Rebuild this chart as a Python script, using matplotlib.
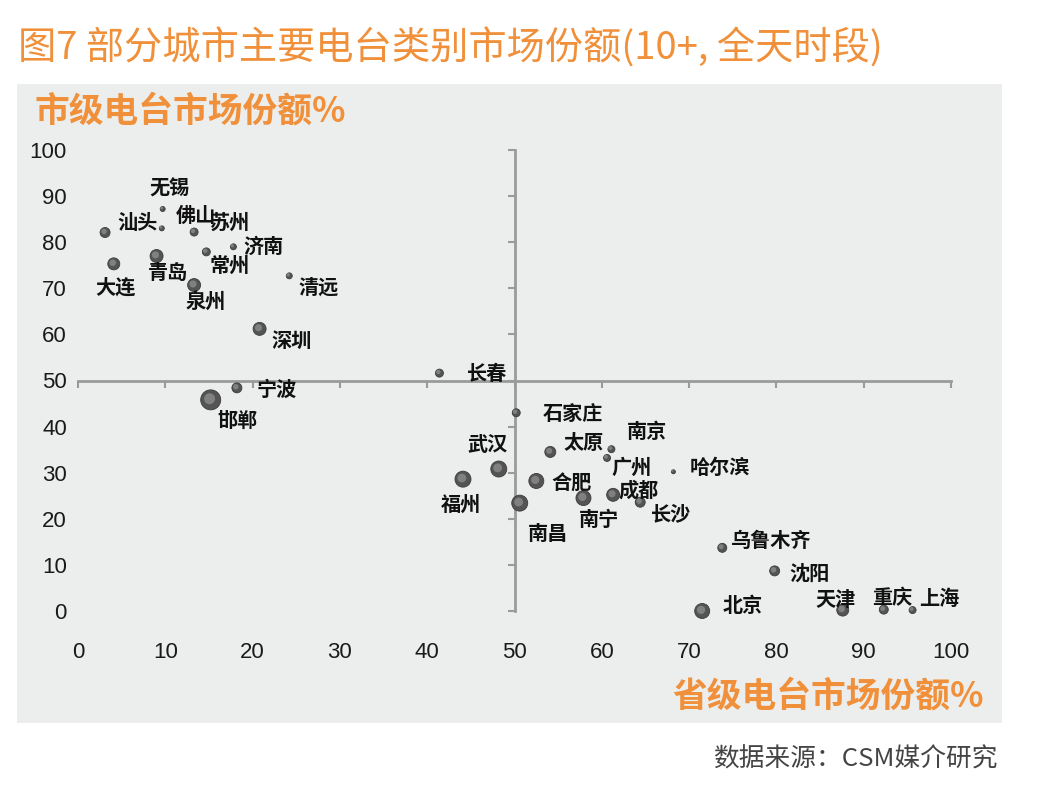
import matplotlib.pyplot as plt
import matplotlib.transforms as mtransforms
from matplotlib.patches import Rectangle

plt.rcParams['font.family'] = ['Noto Sans CJK SC', 'DejaVu Sans']

# data
cities = ['汕头', '无锡', '佛山', '苏州', '济南', '常州', '青岛', '大连', '清远', '泉州',
          '深圳', '宁波', '邯郸', '长春', '石家庄', '武汉', '福州', '南昌', '太原', '合肥',
          '南宁', '南京', '广州', '成都', '长沙', '哈尔滨', '乌鲁木齐', '沈阳', '北京',
          '天津', '重庆', '上海']
province_share = [3.1, 9.7, 9.6, 13.3, 17.8, 14.7, 9.0, 4.1, 24.2, 13.3,
                  20.8, 18.2, 15.2, 41.4, 50.2, 48.2, 44.1, 50.6, 54.1, 52.5,
                  57.9, 61.1, 60.6, 61.3, 64.4, 68.2, 73.8, 79.8, 71.5,
                  87.6, 92.3, 95.6]
city_share = [82.1, 87.2, 83.0, 82.2, 79.0, 77.9, 77.0, 75.3, 72.7, 70.7,
              61.2, 48.4, 45.8, 51.6, 43.0, 30.8, 28.6, 23.4, 34.5, 28.2,
              24.5, 35.1, 33.2, 25.2, 23.6, 30.2, 13.7, 8.7, 0.0,
              0.2, 0.3, 0.2]
bubble = [5, 2.5, 2.5, 4, 3, 4, 6.5, 6, 3, 6.5,
          6.5, 5, 10, 4, 4, 8, 8, 8, 5.5, 7.5,
          7.5, 3.5, 3.5, 6.5, 5, 2, 4.5, 5, 7.5,
          6, 4.5, 3.5]
ticks = [0, 10, 20, 30, 40, 50, 60, 70, 80, 90, 100]

# label offsets from the bubble, in pixels (dx right, dy up)
label_offsets = {
    '汕头': (32, 10), '无锡': (7, 21), '佛山': (34, 13), '苏州': (36, 10),
    '济南': (30, 0), '常州': (23, -13), '青岛': (11, -16), '大连': (2, -23),
    '清远': (29, -11), '泉州': (12, -16), '深圳': (32, -12), '宁波': (40, -1),
    '邯郸': (27, -21), '长春': (48, 0), '石家庄': (57, -1), '武汉': (-11, 25),
    '福州': (-2, -25), '南昌': (28, -30), '太原': (33, 9), '合肥': (35, -2),
    '南宁': (16, -21), '南京': (36, 18), '广州': (25, -9), '成都': (25, 5),
    '长沙': (31, -11), '哈尔滨': (46, 4), '乌鲁木齐': (49, 7), '沈阳': (35, -2),
    '北京': (41, 5), '天津': (-7, 11), '重庆': (8, 12), '上海': (27, 12),
}

orange = '#F0903A'
fig = plt.figure(figsize=(10.4, 8), dpi=100)
fig.patch.set_facecolor('white')

# grey panel behind the chart
fig.patches.append(Rectangle((17 / 1040, 1 - 723 / 800), 985 / 1040, 639 / 800,
                             transform=fig.transFigure, facecolor='#ECEEEE',
                             edgecolor='none', zorder=-10))

ax = fig.add_axes([78 / 1040, 189 / 800, 873 / 1040, 461 / 800])
ax.set_zorder(1)
ax.set_facecolor('none')
ax.set_xlim(0, 100)
ax.set_ylim(0, 100)

# cross lines at 50/50
for side in ['top', 'right']:
    ax.spines[side].set_visible(False)
ax.spines['left'].set_position(('data', 50))
ax.spines['bottom'].set_position(('data', 50))
for side in ['left', 'bottom']:
    ax.spines[side].set_color('#9A9A9A')
    ax.spines[side].set_linewidth(2)
ax.set_xticks(ticks)
ax.set_yticks(ticks)
ax.tick_params(direction='out', length=5, width=1.5, color='#9A9A9A',
               labelleft=False, labelbottom=False)

# tick labels on the outer edges
secx = ax.secondary_xaxis(0)
secx.spines['bottom'].set_visible(False)
secx.set_xticks(ticks)
secx.tick_params(length=0, pad=22, labelsize=16, labelcolor='#1a1a1a',
                 labelfontfamily='Liberation Sans')
secy = ax.secondary_yaxis(0)
secy.spines['left'].set_visible(False)
secy.set_yticks(ticks)
secy.tick_params(length=0, pad=8, labelsize=16, labelcolor='#1a1a1a',
                 labelfontfamily='Liberation Sans')

# bubbles with a small highlight to look like spheres
sizes = [(b * 2 * 0.72) ** 2 for b in bubble]
ax.scatter(province_share, city_share, s=sizes, color='#545454',
           edgecolors='#3c3c3c', linewidths=0.6, zorder=3, clip_on=False)
hl = mtransforms.offset_copy(ax.transData, fig=fig, x=-0.8, y=0.8, units='points')
ax.scatter(province_share, city_share, s=[v * 0.3 for v in sizes], color='#8c8c8c',
           edgecolors='none', alpha=0.8, zorder=4, transform=hl, clip_on=False)

for name, x, y in zip(cities, province_share, city_share):
    dx, dy = label_offsets[name]
    ax.annotate(name, (x, y), xytext=(dx, dy), textcoords='offset pixels',
                ha='center', va='center', fontsize=14.5, fontweight='bold',
                color='#111111', zorder=5)

fig.text(18 / 1040, 1 - 49 / 800, '图7 部分城市主要电台类别市场份额(10+, 全天时段)',
         fontsize=27.5, color=orange, ha='left', va='center')
fig.text(34 / 1040, 1 - 111 / 800, '市级电台市场份额%', fontsize=25,
         fontweight='heavy', color=orange, ha='left', va='center')
fig.text(984 / 1040, 1 - 696 / 800, '省级电台市场份额%', fontsize=25,
         fontweight='heavy', color=orange, ha='right', va='center')
fig.text(998 / 1040, 1 - 760 / 800, '数据来源：CSM媒介研究', fontsize=18.5,
         color='#444444', ha='right', va='center')

fig.savefig('out.png', dpi=100)
